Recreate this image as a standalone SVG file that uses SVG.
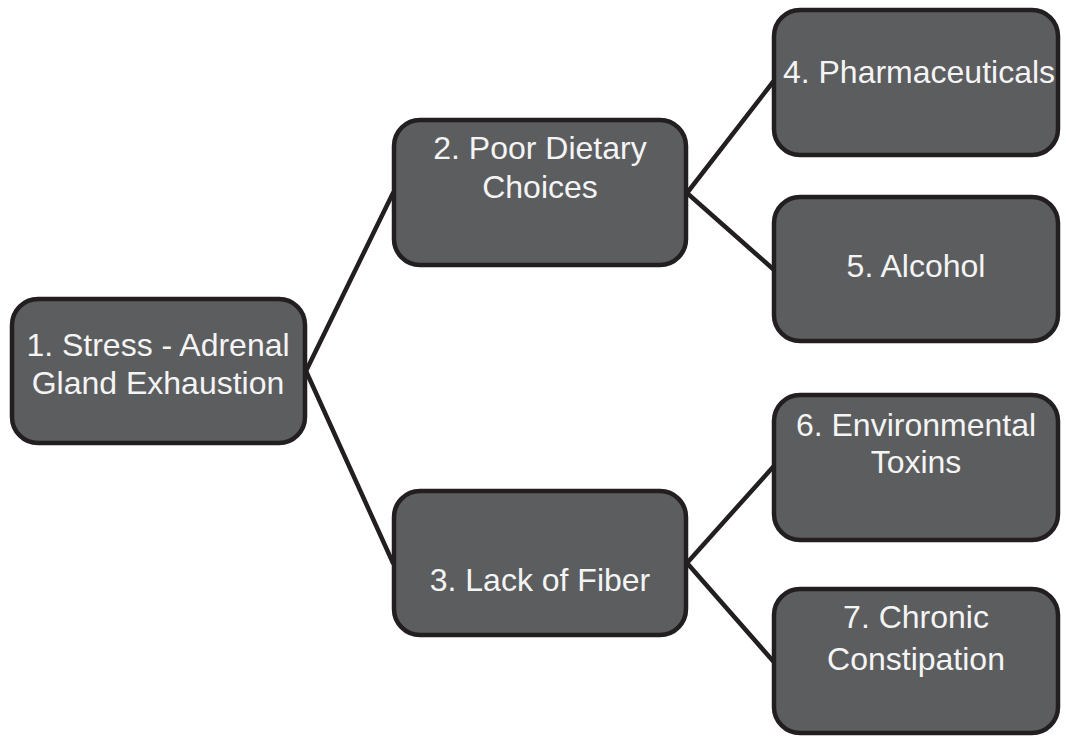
<svg xmlns="http://www.w3.org/2000/svg" width="1066" height="737" viewBox="0 0 1066 737">
<style>
.box{fill:#5c5d5f;stroke:#231f20;stroke-width:4.5}
.lbl{font-family:"Liberation Sans",Arial,sans-serif;font-size:32px;fill:#f4f4f4;text-anchor:middle}
.conn line{stroke:#231f20;stroke-width:4.5;stroke-linecap:round}
</style>
<rect width="1066" height="737" fill="#ffffff"/>
<g id="connectors" class="conn">
<line x1="306" y1="371" x2="393" y2="193"/>
<line x1="306" y1="371" x2="393" y2="563"/>
<line x1="687" y1="193" x2="773" y2="82"/>
<line x1="687" y1="193" x2="773" y2="269"/>
<line x1="687" y1="563" x2="773" y2="467"/>
<line x1="687" y1="563" x2="773" y2="661"/>
</g>
<g id="node1"><rect class="box" x="12" y="299" width="293" height="144" rx="26"/><text class="lbl" x="158" y="356">1. Stress - Adrenal</text><text class="lbl" x="158" y="394">Gland Exhaustion</text></g>
<g id="node2"><rect class="box" x="394" y="120" width="292" height="145" rx="26"/><text class="lbl" x="540" y="159">2. Poor Dietary</text><text class="lbl" x="540" y="198">Choices</text></g>
<g id="node3"><rect class="box" x="394" y="491" width="292" height="144" rx="26"/><text class="lbl" x="540" y="591">3. Lack of Fiber</text></g>
<g id="node4"><rect class="box" x="774" y="10" width="284" height="145" rx="26"/><text class="lbl" x="919" y="83">4. Pharmaceuticals</text></g>
<g id="node5"><rect class="box" x="774" y="197" width="284" height="144" rx="26"/><text class="lbl" x="916" y="277">5. Alcohol</text></g>
<g id="node6"><rect class="box" x="774" y="395" width="284" height="145" rx="26"/><text class="lbl" x="916" y="436">6. Environmental</text><text class="lbl" x="916" y="473">Toxins</text></g>
<g id="node7"><rect class="box" x="774" y="589" width="284" height="144" rx="26"/><text class="lbl" x="916" y="628">7. Chronic</text><text class="lbl" x="916" y="670">Constipation</text></g>
</svg>
